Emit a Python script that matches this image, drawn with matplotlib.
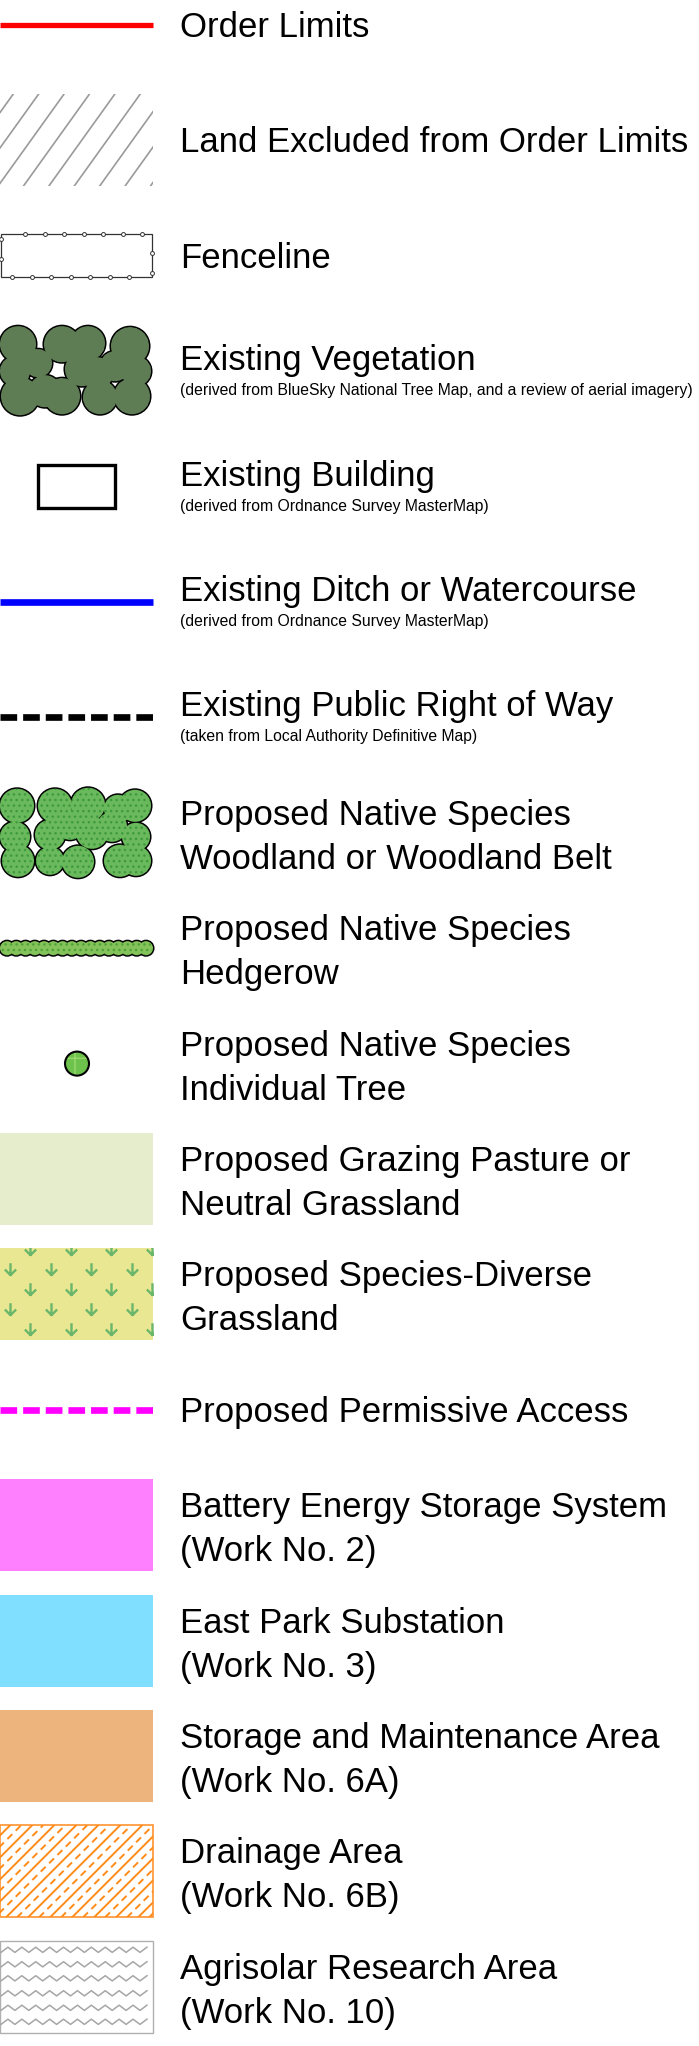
import matplotlib
matplotlib.use("Agg")
import matplotlib.pyplot as plt
import numpy as np
from matplotlib.patches import Rectangle, Circle
from matplotlib.path import Path

plt.rcParams['font.family'] = ['Liberation Sans', 'DejaVu Sans']
plt.rcParams['lines.scale_dashes'] = False
plt.rcParams['hatch.linewidth'] = 1.0

# legend entries, top to bottom
titles = [
    "Order Limits",
    "Land Excluded from Order Limits",
    "Fenceline",
    "Existing Vegetation",
    "Existing Building",
    "Existing Ditch or Watercourse",
    "Existing Public Right of Way",
    "Proposed Native Species\nWoodland or Woodland Belt",
    "Proposed Native Species\nHedgerow",
    "Proposed Native Species\nIndividual Tree",
    "Proposed Grazing Pasture or\nNeutral Grassland",
    "Proposed Species-Diverse\nGrassland",
    "Proposed Permissive Access",
    "Battery Energy Storage System\n(Work No. 2)",
    "East Park Substation\n(Work No. 3)",
    "Storage and Maintenance Area\n(Work No. 6A)",
    "Drainage Area\n(Work No. 6B)",
    "Agrisolar Research Area\n(Work No. 10)",
]
notes = [
    None, None, None,
    "(derived from BlueSky National Tree Map, and a review of aerial imagery)",
    "(derived from Ordnance Survey MasterMap)",
    "(derived from Ordnance Survey MasterMap)",
    "(taken from Local Authority Definitive Map)",
    None, None, None, None, None, None, None, None, None, None, None,
]
symbols = [
    "red_line", "grey_hatch", "fence", "veg", "building", "ditch", "prow",
    "woodland", "hedgerow", "tree", "grazing", "diverse", "access",
    "bess", "substation", "storage", "drainage", "agrisolar",
]
fill_colours = {
    "grazing": "#e6edcc",
    "diverse": "#e9e791",
    "bess": "#ff80ff",
    "substation": "#80dfff",
    "storage": "#edb57d",
}

# tree canopy shapes, circles as (dx, dy, r) around the symbol centre
veg_circles = [(18, -27, 18), (15, 0, 15), (20, 25, 19), (45, 20, 16),
               (38, -8, 14), (62, -27, 18), (88, -28, 17), (82, -2, 17),
               (97, 2, 16), (62, 25, 18), (100, 26, 17), (130, -25, 19),
               (136, 0, 15), (132, 25, 18), (115, -5, 15)]
wood_circles = [(17, -27, 17), (55, -27, 17), (88, -28, 17), (118, -24, 14),
                (135, -27, 16), (15, 4, 15), (50, 2, 15), (92, 0, 16),
                (136, 4, 14), (18, 28, 16), (50, 28, 14), (78, 29, 16),
                (120, 28, 16), (136, 28, 15), (70, -8, 15), (112, -6, 15)]

W, H = 699, 2046
fig = plt.figure(figsize=(W / 100, H / 100), dpi=100)
ax = fig.add_axes([0, 0, 1, 1])
ax.set_xlim(0, W)
ax.set_ylim(H, 0)
ax.axis('off')

TOP, STEP = 25, 115.4
X1 = 153          # right edge of symbol column
BOX = 92          # height of area symbols
TX = 180
FS, NOTE_FS = 25, 11.3


def blob(cy, circles, face, dots):
    for dx, dy, r in circles:
        ax.add_patch(Circle((dx, cy + dy), r, fc=face, ec='black', lw=2.2, zorder=2))
    for dx, dy, r in circles:
        ax.add_patch(Circle((dx, cy + dy), r, fc=face, ec=dots, lw=0,
                            hatch='...', zorder=3))


def box(cy, **kw):
    r = Rectangle((0, cy - BOX / 2), X1, BOX, **kw)
    ax.add_patch(r)
    return r


for i, kind in enumerate(symbols):
    y = TOP + i * STEP
    if kind == "red_line":
        ax.plot([0, X1], [y, y], color='#ff0000', lw=3.8, solid_capstyle='butt')
    elif kind == "ditch":
        ax.plot([0, X1], [y, y], color='#0000ff', lw=4.8, solid_capstyle='butt')
    elif kind in ("prow", "access"):
        c = 'black' if kind == "prow" else '#ff00ff'
        ax.plot([0, X1], [y, y], color=c, lw=4.8, dashes=(12, 4.3),
                dash_capstyle='butt')
    elif kind == "grey_hatch":
        clip = box(y, fc='none', ec='none')
        for xt in np.arange(13 - 25.4 * 3, X1 + 80, 25.4):
            ln, = ax.plot([xt - 66, xt], [y + BOX / 2, y - BOX / 2],
                          color='#9a9a9a', lw=1.2)
            ln.set_clip_path(clip)
    elif kind == "fence":
        ax.add_patch(Rectangle((1, y - 21.5), X1 - 2, 43, fc='none', ec='#333333', lw=0.9))
        top_x = np.arange(25, 150, 19.5)
        bot_x = np.arange(12, 140, 19.5)
        xs = np.concatenate([top_x, bot_x, [1, 1], [X1 - 1, X1 - 1]])
        ys = np.concatenate([np.full(len(top_x), y - 21.5), np.full(len(bot_x), y + 21.5),
                             [y - 17, y + 3], [y - 3, y + 17]])
        ax.plot(xs, ys, 'o', mfc='white', mec='#333333', ms=2.8, mew=0.7, zorder=3)
    elif kind == "veg":
        blob(y, veg_circles, '#5f7d55', '#5f7d55')
    elif kind == "woodland":
        blob(y, wood_circles, '#6ab95c', '#3f9a3f')
    elif kind == "hedgerow":
        hx = np.linspace(7, 146, 16)
        blob(y, [(x, 0, 7) for x in hx], '#84c35a', '#4f9f3a')
    elif kind == "tree":
        ax.add_patch(Circle((77, y), 12, fc='#6cc24a', ec='#9ad86e', lw=0,
                            hatch='+', zorder=2))
        ax.add_patch(Circle((77, y), 12, fc='none', ec='black', lw=1.5, zorder=3))
    elif kind == "building":
        ax.add_patch(Rectangle((38, y - 21.5), 77, 43, fc='none', ec='black', lw=2.4))
    elif kind in fill_colours:
        clip = box(y, fc=fill_colours[kind], ec='none')
        if kind == "diverse":
            mark = Path([(0, 1), (0, -1), (-0.9, 0.0), (0, -0.9), (0.9, 0.0)],
                        [Path.MOVETO, Path.LINETO, Path.MOVETO, Path.LINETO, Path.LINETO])
            for k, dy in enumerate([-45, -25, -5, 15, 35]):
                start = 30 if k % 2 == 0 else 10
                xs = np.arange(start, X1 + 20, 40.7)
                ln, = ax.plot(xs, np.full(len(xs), y + dy), ls='none', marker=mark,
                              ms=9, mfc='none', mec='#6ab66a', mew=1.7)
                ln.set_clip_path(clip)
    elif kind == "drainage":
        clip = box(y, fc='white', ec='#ff9430', lw=1.2)
        for k, xt in enumerate(np.arange(-100, X1 + 100, 11)):
            style = dict(color='#ff8c1a', lw=1.4)
            if k % 2:
                style.update(dashes=(5, 3.5), dash_capstyle='butt')
            ln, = ax.plot([xt - BOX, xt], [y + BOX / 2, y - BOX / 2], **style)
            ln.set_clip_path(clip)
    elif kind == "agrisolar":
        box(y, fc='white', ec='#b0b0b0', lw=1.0)
        zx = np.arange(1, X1, 6.95)
        for dy in [-37, -22.5, -8.5, 6.5, 21, 35]:
            zy = y + dy + np.where(np.arange(len(zx)) % 2 == 0, 2.6, -2.6)
            ax.plot(zx, zy, color='#a6a6a6', lw=1.1)

    # labels
    lines = titles[i].split("\n")
    if len(lines) == 2:
        ax.text(TX, y - 8, lines[0], fontsize=FS, va='baseline')
        ax.text(TX, y + 36, lines[1], fontsize=FS, va='baseline')
    elif notes[i]:
        ax.text(TX, y - 1, lines[0], fontsize=FS, va='baseline')
        ax.text(TX, y + 24, notes[i], fontsize=NOTE_FS, va='baseline')
    else:
        ax.text(TX, y + 12, lines[0], fontsize=FS, va='baseline')

fig.savefig("out.png", dpi=100, facecolor='white')
